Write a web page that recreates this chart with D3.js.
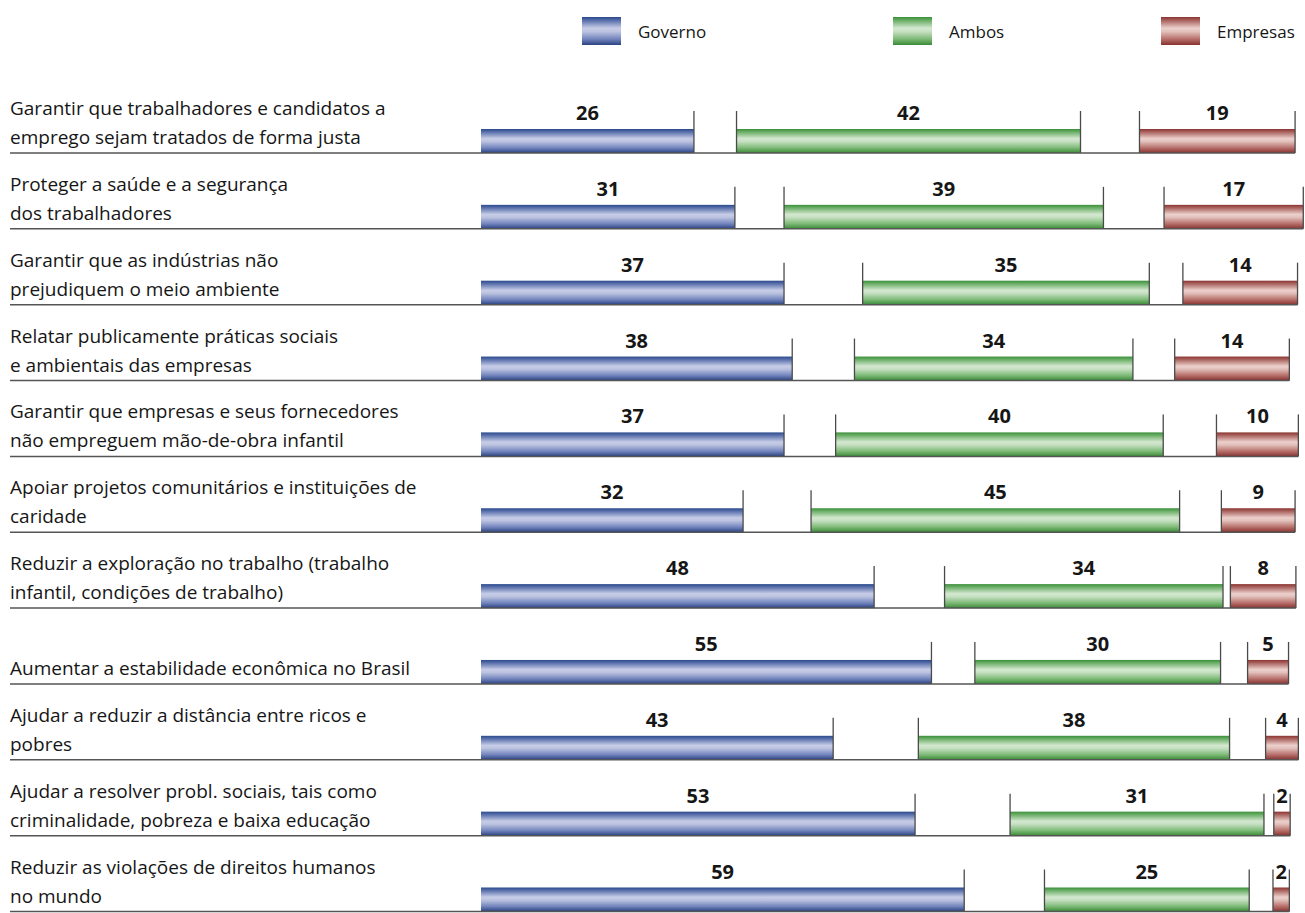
<!DOCTYPE html>
<html lang="pt-BR">
<head>
<meta charset="utf-8">
<script src="https://cdn.jsdelivr.net/npm/d3@7"></script>
<style>
  html, body { margin: 0; padding: 0; background: #fff; }
  svg { display: block; }
  .tema { font-family: "Open Sans", "Noto Sans", sans-serif; font-size: 19px; fill: #161616; }
  .valor { font-family: "Open Sans", "Noto Sans", sans-serif; font-size: 20px; font-weight: 700; fill: #161616; }
  .leg { font-family: "Open Sans", "Noto Sans", sans-serif; font-size: 17px; fill: #161616; }
</style>
</head>
<body>
<svg id="chart" width="1305" height="913"></svg>
<script>
// Quem deve ser responsável por cada tema (% das respostas)
const temas = [
  "Garantir que trabalhadores e candidatos a\nemprego sejam tratados de forma justa",
  "Proteger a saúde e a segurança\ndos trabalhadores",
  "Garantir que as indústrias não\nprejudiquem o meio ambiente",
  "Relatar publicamente práticas sociais\ne ambientais das empresas",
  "Garantir que empresas e seus fornecedores\nnão empreguem mão-de-obra infantil",
  "Apoiar projetos comunitários e instituições de\ncaridade",
  "Reduzir a exploração no trabalho (trabalho\ninfantil, condições de trabalho)",
  "Aumentar a estabilidade econômica no Brasil",
  "Ajudar a reduzir a distância entre ricos e\npobres",
  "Ajudar a resolver probl. sociais, tais como\ncriminalidade, pobreza e baixa educação",
  "Reduzir as violações de direitos humanos\nno mundo"
];
const governo  = [26, 31, 37, 38, 37, 32, 48, 55, 43, 53, 59];
const ambos    = [42, 39, 35, 34, 40, 45, 34, 30, 38, 31, 25];
const empresas = [19, 17, 14, 14, 10,  9,  8,  5,  4,  2,  2];
// parcelas sem rótulo (espaços em branco entre os grupos)
const nenhum   = [5.2, 6.0, 9.6, 7.6, 6.3, 8.3, 8.6, 5.3, 10.4, 11.6, 9.8];
const naoSabe  = [7.2, 7.4, 4.1, 5.1, 6.5, 5.1, 0.9, 3.3, 4.4, 1.2, 2.9];

const seriesNomes = ["Governo", "Ambos", "Empresas"];

const svg = d3.select("#chart");

const x = d3.scaleLinear().domain([0, 100]).range([481, 1300]);
const y = d3.scaleLinear().domain([0, temas.length - 1]).range([153, 911.5]);

const barH = 24;
const tickH = 42;

// gradientes dos tons das barras
const grads = {
  Governo:  ["#2b4a8b", "#5068a6", "#c7cde7", "#bcc3e0", "#7486be", "#2a4282"],
  Ambos:    ["#3a8f3a", "#62a95e", "#d4e8d0", "#c6e0c2", "#7fbb79", "#3a8a36"],
  Empresas: ["#8b3431", "#a45a56", "#ecd0cc", "#e2c0bb", "#b8716c", "#873230"]
};
const offs = [0, 0.1, 0.4, 0.52, 0.78, 1];
const defs = svg.append("defs");
Object.entries(grads).forEach(([nome, cores]) => {
  const g = defs.append("linearGradient")
    .attr("id", "g-" + nome)
    .attr("x1", 0).attr("y1", 0).attr("x2", 0).attr("y2", 1);
  cores.forEach((c, i) => g.append("stop").attr("offset", offs[i]).attr("stop-color", c));
});

// legenda
const legX = [582, 893, 1161];
seriesNomes.forEach((nome, i) => {
  svg.append("rect")
    .attr("x", legX[i]).attr("y", 17)
    .attr("width", 39).attr("height", 28)
    .attr("fill", `url(#g-${nome})`);
  svg.append("text").attr("class", "leg")
    .attr("x", legX[i] + 56).attr("y", 38)
    .text(nome);
});

// linhas de dados
const linhas = temas.map((t, i) => {
  const g0 = 0, g1 = governo[i];
  const a0 = g1 + nenhum[i], a1 = a0 + ambos[i];
  const e0 = a1 + naoSabe[i], e1 = e0 + empresas[i];
  return {
    tema: t, base: y(i),
    segs: [
      { nome: "Governo", v: governo[i], s: g0, e: g1 },
      { nome: "Ambos", v: ambos[i], s: a0, e: a1 },
      { nome: "Empresas", v: empresas[i], s: e0, e: e1 }
    ],
    limites: [g1, a0, a1, e0, e1],
    fim: e1
  };
});

const row = svg.selectAll("g.linha").data(linhas).join("g").attr("class", "linha");

// rótulos dos temas
row.each(function (d) {
  const partes = d.tema.split("\n");
  const g = d3.select(this);
  const t = g.append("text").attr("class", "tema");
  if (partes.length === 1) {
    t.attr("x", 10).attr("y", d.base - 9).text(partes[0]);
  } else {
    t.append("tspan").attr("x", 10).attr("y", d.base - 38).text(partes[0]);
    t.append("tspan").attr("x", 10).attr("y", d.base - 9).text(partes[1]);
  }
});

// barras
row.selectAll("rect.bar").data(d => d.segs.map(s => ({ ...s, base: d.base })))
  .join("rect").attr("class", "bar")
  .attr("x", s => x(s.s))
  .attr("y", s => s.base - barH)
  .attr("width", s => x(s.e) - x(s.s))
  .attr("height", barH)
  .attr("fill", s => `url(#g-${s.nome})`);

// valores
row.selectAll("text.valor").data(d => d.segs.map(s => ({ ...s, base: d.base })))
  .join("text").attr("class", "valor")
  .attr("x", s => (x(s.s) + x(s.e)) / 2)
  .attr("y", s => s.base - 33)
  .attr("text-anchor", "middle")
  .text(s => s.v);

// marcas verticais nos limites dos grupos
row.selectAll("line.lim").data(d => d.limites.map(v => ({ v, base: d.base })))
  .join("line").attr("class", "lim")
  .attr("x1", l => x(l.v)).attr("x2", l => x(l.v))
  .attr("y1", l => l.base - tickH).attr("y2", l => l.base)
  .attr("stroke", "#4a4a4a").attr("stroke-width", 1.3);

// linha de base de cada tema
row.append("line")
  .attr("x1", 10).attr("x2", d => x(d.fim))
  .attr("y1", d => d.base).attr("y2", d => d.base)
  .attr("stroke", "#555").attr("stroke-width", 1.5);
</script>
</body>
</html>
